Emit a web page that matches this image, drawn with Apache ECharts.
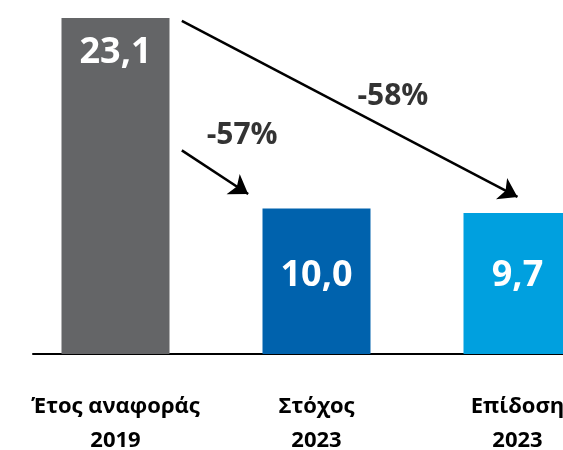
<!DOCTYPE html>
<html>
<head>
<meta charset="utf-8">
<script src="https://cdn.jsdelivr.net/npm/echarts@6/dist/echarts.min.js"></script>
<style>
  html, body { margin: 0; padding: 0; background: #fff; }
  #main { width: 563px; height: 450px; }
</style>
</head>
<body>
<div id="main"></div>
<script>
  const categories = ['Έτος αναφοράς\n2019', 'Στόχος\n2023', 'Επίδοση\n2023'];
  const values = [23.1, 10.0, 9.7];
  const barColors = ['#646567', '#0062ad', '#00a0df'];
  // arrows in (category position, value) units
  const arrowFrom = [[0.33, 22.9], [0.33, 14.0]];
  const arrowTo = [[2.0, 10.8], [0.66, 11.0]];
  const changeLabels = ['-58%', '-57%'];
  const changePos = [[1.38, 17.7], [0.63, 15.0]];

  const font = "'Open Sans', 'Noto Sans', sans-serif";
  const fmt = v => v.toFixed(1).replace('.', ',');

  let myEchart = echarts.init(document.getElementById('main'));
  myEchart.setOption({
    animation: false,
    grid: [
      { left: 15, width: 603, top: 18, bottom: 96, outerBoundsMode: 'none' },
      { left: 33, right: 0, top: 18, bottom: 96, outerBoundsMode: 'none' }
    ],
    xAxis: [
      {
        type: 'category',
        gridIndex: 0,
        data: categories,
        axisLine: { show: false },
        axisTick: { show: false },
        axisLabel: {
          interval: 0,
          margin: 36,
          fontFamily: font,
          fontSize: 22,
          fontWeight: 'bold',
          lineHeight: 34,
          color: '#000'
        }
      },
      { type: 'value', gridIndex: 0, min: -0.5, max: 2.5, show: false },
      {
        type: 'value',
        gridIndex: 1,
        min: 0,
        max: 1,
        axisLine: { show: true, lineStyle: { color: '#000', width: 2 } },
        axisTick: { show: false },
        axisLabel: { show: false },
        splitLine: { show: false }
      }
    ],
    yAxis: [
      { type: 'value', gridIndex: 0, min: 0, max: 23.1, show: false },
      { type: 'value', gridIndex: 1, min: 0, max: 1, show: false }
    ],
    series: [
      {
        type: 'bar',
        xAxisIndex: 0,
        yAxisIndex: 0,
        barWidth: 108,
        data: values.map((v, i) => ({
          value: v,
          itemStyle: { color: barColors[i] },
          label: {
            show: true,
            position: i === 0 ? 'insideTop' : 'insideBottom',
            distance: i === 0 ? 17 : 60,
            formatter: fmt(v),
            color: '#fff',
            fontFamily: font,
            fontSize: 36,
            fontWeight: 'bold'
          }
        }))
      },
      {
        type: 'lines',
        coordinateSystem: 'cartesian2d',
        xAxisIndex: 1,
        yAxisIndex: 0,
        symbol: ['none', 'arrow'],
        symbolSize: 18,
        lineStyle: { color: '#000', width: 2.5, opacity: 1 },
        data: arrowFrom.map((p, i) => ({ coords: [p, arrowTo[i]] }))
      },
      {
        type: 'scatter',
        xAxisIndex: 1,
        yAxisIndex: 0,
        symbolSize: 1,
        itemStyle: { color: 'rgba(0,0,0,0)' },
        label: {
          show: true,
          position: 'inside',
          formatter: p => p.name,
          color: '#000',
          fontFamily: font,
          fontSize: 30,
          fontWeight: 'bold'
        },
        data: changePos.map((p, i) => ({ name: changeLabels[i], value: p }))
      }
    ]
  });
</script>
</body>
</html>
